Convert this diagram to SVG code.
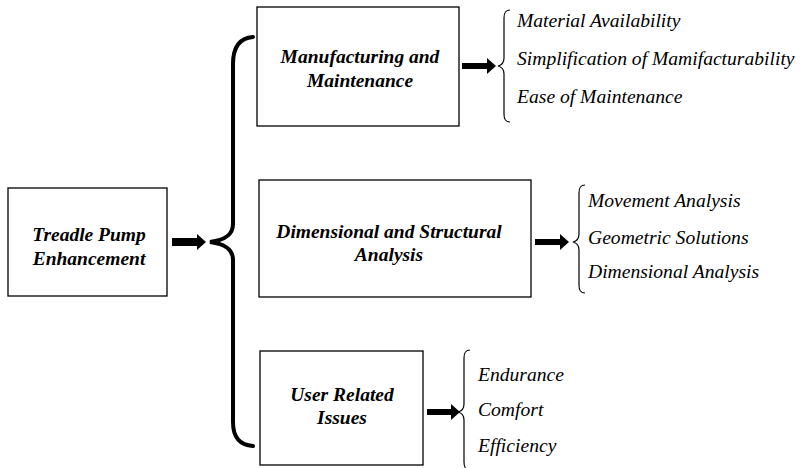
<svg xmlns="http://www.w3.org/2000/svg" width="801" height="468" viewBox="0 0 801 468">
<style>
.box{fill:#fff;stroke:#000;stroke-width:1.3}
.lbl{font-family:'Liberation Serif','Times New Roman',serif;font-style:italic;font-weight:bold;font-size:19.5px;text-anchor:middle;fill:#000}
.item{font-family:'Liberation Serif','Times New Roman',serif;font-style:italic;font-size:19.6px;fill:#000}
.arrow{fill:#000}
.bigbrace{fill:none;stroke:#000;stroke-width:4;stroke-linecap:round}
.brace{fill:none;stroke:#000;stroke-width:1.2}
</style>
<rect width="801" height="468" fill="#fff"/>
<g id="root">
<rect class="box" x="8" y="188" width="159" height="108"/>
<text class="lbl" x="89" y="241">Treadle Pump</text>
<text class="lbl" x="89" y="265">Enhancement</text>
</g>
<g id="manufacturing">
<rect class="box" x="257" y="7" width="202" height="119"/>
<text class="lbl" x="360" y="63">Manufacturing and</text>
<text class="lbl" x="360" y="87">Maintenance</text>
</g>
<g id="dimensional">
<rect class="box" x="259" y="180" width="272" height="117"/>
<text class="lbl" x="389" y="238">Dimensional and Structural</text>
<text class="lbl" x="389" y="261">Analysis</text>
</g>
<g id="user">
<rect class="box" x="260" y="351" width="163" height="114"/>
<text class="lbl" x="342" y="401">User Related</text>
<text class="lbl" x="342" y="424">Issues</text>
</g>
<g id="list1">
<text class="item" x="517" y="27">Material Availability</text>
<text class="item" x="517" y="65">Simplification of Mamifacturability</text>
<text class="item" x="517" y="103">Ease of Maintenance</text>
</g>
<g id="list2">
<text class="item" x="588" y="207">Movement Analysis</text>
<text class="item" x="588" y="244">Geometric Solutions</text>
<text class="item" x="588" y="278">Dimensional Analysis</text>
</g>
<g id="list3">
<text class="item" x="478" y="381">Endurance</text>
<text class="item" x="478" y="416">Comfort</text>
<text class="item" x="478" y="452">Efficiency</text>
</g>
<g id="connectors">
<path class="arrow" d="M172,238 H197 V234 L206,242 L197,250 V246 H172 Z"/>
<path class="bigbrace" d="M253,37 C240,38 233,47 233,64 L233,224 C233,235 225,240 210,242 C225,244 233,249 233,260 L233,422 C233,438 240,445 253,446"/>
<path class="arrow" d="M462,63 H487 V58 L496,66 L487,74 V69 H462 Z"/>
<path class="brace" d="M510,10 C505,10 504,13 504,18 L504,58 C504,63 502,65 498,66 C502,67 504,69 504,74 L504,114 C504,119 505,122 510,122"/>
<path class="arrow" d="M535,239 H560 V234 L569,242 L560,250 V245 H535 Z"/>
<path class="brace" d="M585,185 C580,185 579,188 579,193 L579,234 C579,239 577,241 573,242 C577,243 579,245 579,250 L579,285 C579,290 580,293 585,293"/>
<path class="arrow" d="M427,409 H451 V404 L460,412 L451,420 V415 H427 Z"/>
<path class="brace" d="M470,350 C465,350 464,353 464,358 L464,404 C464,409 462,411 458,412 C462,413 464,415 464,420 L464,462 C464,467 465,470 470,470"/>
</g>
</svg>
